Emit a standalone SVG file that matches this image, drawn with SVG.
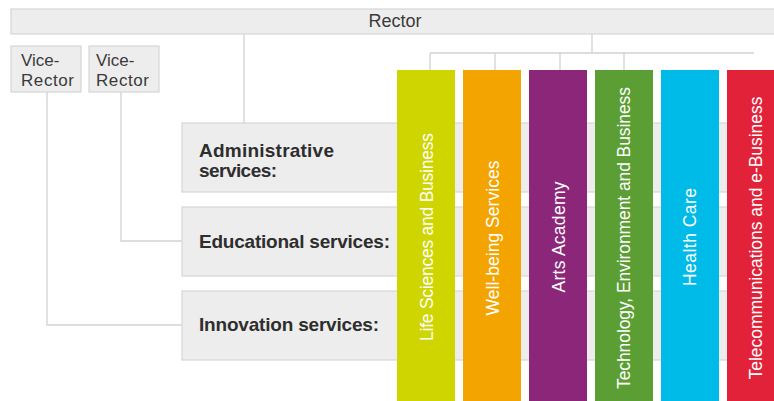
<svg xmlns="http://www.w3.org/2000/svg" width="774" height="401" viewBox="0 0 774 401">
  <style>
    .box { fill: #ededed; stroke: #d6d6d6; stroke-width: 1.2; }
    .line { fill: none; stroke: #d2d2d2; stroke-width: 1.3; }
    .lbl { font-family: "Liberation Sans", Arial, sans-serif; font-size: 18px; fill: #3a3a3a; }
    .vr { font-family: "Liberation Sans", Arial, sans-serif; font-size: 17px; fill: #3a3a3a; }
    .svc { font-family: "Liberation Sans", Arial, sans-serif; font-size: 19px; font-weight: bold; fill: #2e2e2e; }
    .unit { font-family: "Liberation Sans", Arial, sans-serif; font-size: 17.5px; fill: #ffffff; text-anchor: middle; }
  </style>

  <rect width="774" height="401" fill="#ffffff"/>

  <!-- connectors -->
  <g id="connectors" class="line">
    <path d="M47 92 V325 H182"/>
    <path d="M121 92 V241 H182"/>
    <path d="M244 34 V123"/>
    <path d="M592 34 V53"/>
    <path d="M430 53 H754"/>
    <path d="M430 53 V70 M495 53 V70 M560 53 V70 M624 53 V70"/>
  </g>

  <g id="rector">
    <rect class="box" x="11" y="9" width="775" height="25"/>
    <text class="lbl" x="395" y="27" text-anchor="middle">Rector</text>
  </g>

  <g id="vice-rector-1">
    <rect class="box" x="11" y="46" width="70" height="46"/>
    <text class="vr" x="21" y="66">Vice-</text>
    <text class="vr" x="21" y="86" textLength="53">Rector</text>
  </g>

  <g id="vice-rector-2">
    <rect class="box" x="89" y="46" width="70" height="46"/>
    <text class="vr" x="96" y="66">Vice-</text>
    <text class="vr" x="96" y="86" textLength="53">Rector</text>
  </g>

  <g id="administrative-services">
    <rect class="box" x="182" y="123" width="600" height="69"/>
    <text class="svc" x="199" y="157" textLength="135">Administrative</text>
    <text class="svc" x="199" y="177" textLength="78">services:</text>
  </g>

  <g id="educational-services">
    <rect class="box" x="182" y="207" width="600" height="69"/>
    <text class="svc" x="199" y="248" textLength="191">Educational services:</text>
  </g>

  <g id="innovation-services">
    <rect class="box" x="182" y="291" width="600" height="69"/>
    <text class="svc" x="199" y="331" textLength="180">Innovation services:</text>
  </g>

  <g id="life-sciences">
    <rect x="397" y="70" width="58" height="335" fill="#cfd500"/>
    <text class="unit" transform="translate(427 237) rotate(-90)" y="6" textLength="208">Life Sciences and Business</text>
  </g>

  <g id="well-being">
    <rect x="463" y="70" width="58" height="335" fill="#f4a400"/>
    <text class="unit" transform="translate(493 238) rotate(-90)" y="6" textLength="155">Well-being Services</text>
  </g>

  <g id="arts-academy">
    <rect x="529" y="70" width="58" height="335" fill="#8b2679"/>
    <text class="unit" transform="translate(559 237) rotate(-90)" y="6" textLength="111">Arts Academy</text>
  </g>

  <g id="technology">
    <rect x="595" y="70" width="58" height="335" fill="#5b9e34"/>
    <text class="unit" transform="translate(624 238) rotate(-90)" y="6" textLength="302">Technology, Environment and Business</text>
  </g>

  <g id="health-care">
    <rect x="661" y="70" width="58" height="335" fill="#00bbe7"/>
    <text class="unit" transform="translate(690 237) rotate(-90)" y="6" textLength="98">Health Care</text>
  </g>

  <g id="telecommunications">
    <rect x="727" y="70" width="60" height="335" fill="#e12239"/>
    <text class="unit" transform="translate(756 238) rotate(-90)" y="6" textLength="283">Telecommunications and e-Business</text>
  </g>
</svg>
